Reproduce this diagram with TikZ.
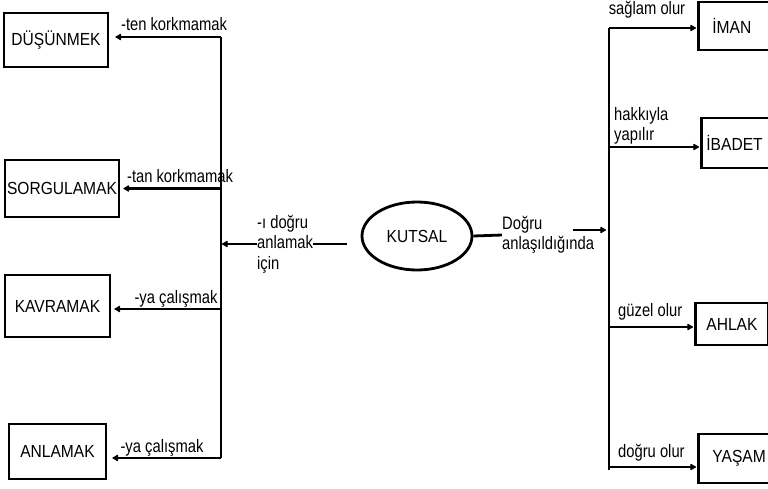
\documentclass[tikz,border=0pt]{standalone}
\usepackage{fontspec}
\setmainfont{Liberation Sans}[FakeStretch=0.89]
\newfontfamily\lblfont{Liberation Sans}[FakeStretch=0.82]
\usetikzlibrary{shapes.geometric, arrows.meta}

\begin{document}
\begin{tikzpicture}[x=1pt, y=-1pt, >={Latex[length=7pt,width=8pt,round]},
                    box/.style={draw, line width=2.8pt, inner sep=0pt, font=\fontsize{17.5}{20}\selectfont},
                    rbox/.style={box, anchor=west, align=left, inner xsep=10pt},
                    lbl/.style={font=\lblfont\fontsize{18}{20.5}\selectfont, inner sep=0pt, align=left},
                    link/.style={line width=2.8pt}]
\useasboundingbox (0,0) rectangle (768,488);

% left boxes
\node[box, minimum width=104, minimum height=54] (dus) at (56,40) {DÜŞÜNMEK};
\node[box, minimum width=114, minimum height=57] (sor) at (62,188.5) {SORGULAMAK};
\node[box, minimum width=105, minimum height=62] (kav) at (57.5,306) {KAVRAMAK};
\node[box, minimum width=97, minimum height=55] (anl) at (57.5,451.5) {ANLAMAK};

% centre
\node[draw, ellipse, line width=2.8pt, minimum width=110, minimum height=68,
      font=\fontsize{17.5}{20}\selectfont] (kut) at (417,236) {KUTSAL};
\node[lbl, anchor=west] (mid) at (257,244) {-ı doğru\\anlamak\\için};
\node[lbl, anchor=west] (dog) at (502,235) {Doğru\\anlaşıldığında};

% right boxes
\node[rbox, minimum height=48, text width=70, inner xsep=14pt] (iman) at (697,26) {İMAN};
\node[rbox, minimum height=50, text width=70, inner xsep=5pt] (iba) at (700,143) {İBADET};
\node[rbox, minimum height=42, minimum width=73, inner xsep=6pt] (ahl) at (694,324) {AHLAK};
\node[rbox, minimum height=49, text width=70, inner xsep=14pt] (yas) at (697,458.5) {YAŞAM};

% trunks
\coordinate (lt) at (221,37);
\coordinate (lb) at (221,458);
\coordinate (rt) at (609,28);
\coordinate (rb) at (609,470);
\coordinate (ra) at (573,230);
\draw[link] (lt) -- (lb);
\draw[link] (rt) -- (rb);

% left branches
\draw[link,->,shorten >=6pt] (lt) -- (lt -| dus.east);
\draw[link,->,shorten >=3pt] (sor.east -| lt) -- (sor.east);
\draw[link,->,shorten >=3pt] (221,309) -- (kav.east |- 0,309);
\draw[link,->,shorten >=5pt] (lb) -- (lb -| anl.east);
\draw[link,->,shorten >=1pt] (mid.west) -- (mid.west -| lt);
\draw[link,shorten >=14pt] (mid.east) -- (mid.east -| kut.west);
\draw[link] (kut.east) -- (dog.west);
\draw[link,->,shorten >=3pt] (ra) -- (ra -| rt);

% right branches
\draw[link,->,shorten >=1pt] (rt) -- (rt -| iman.west);
\draw[link,->,shorten >=1pt] (609,147) -- (iba.west |- 0,147);
\draw[link,->,shorten >=1pt] (609,327) -- (ahl.west |- 0,327);
\draw[link,->,shorten >=1pt] (609,467) -- (yas.west |- 0,467);

% labels
\node[lbl] (l1) at (174,24) {-ten korkmamak};
\node[lbl] (l2) at (180,176) {-tan korkmamak};
\node[lbl] (l3) at (176,299) {-ya çalışmak};
\node[lbl] (l4) at (162,448) {-ya çalışmak};
\node[lbl] (r1) at (647,10) {sağlam olur};
\node[lbl, anchor=west] (r2) at (614,126) {hakkıyla\\yapılır};
\node[lbl, anchor=west] (r3) at (618,312) {güzel olur};
\node[lbl, anchor=west] (r4) at (618,453) {doğru olur};
\end{tikzpicture}
\end{document}
